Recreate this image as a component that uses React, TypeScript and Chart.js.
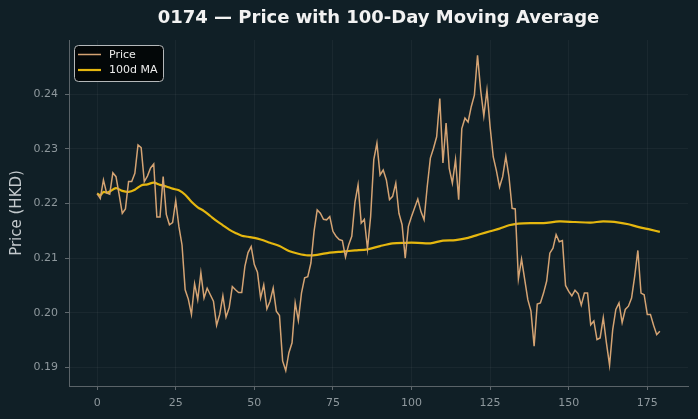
import { useEffect, useRef } from 'react';
import { Chart, registerables } from 'chart.js';

Chart.register(...registerables);

const TITLE = '0174 — Price with 100-Day Moving Average';
const Y_LABEL = 'Price (HKD)';
const PRICE_LABEL = 'Price';
const MA_LABEL = '100d MA';

// Daily closing price, one value per trading day (day 0 .. 179)
const price = [
  0.2218, 0.2209, 0.2243, 0.2219, 0.2217, 0.2256, 0.2249, 0.2216, 0.2182, 0.2190,
  0.2240, 0.2240, 0.2255, 0.2307, 0.2302, 0.2240, 0.2250, 0.2265, 0.2272, 0.2175,
  0.2175, 0.2249, 0.2180, 0.2161, 0.2165, 0.2205, 0.2158, 0.2124, 0.2042, 0.2025,
  0.1997, 0.2053, 0.2024, 0.2073, 0.2027, 0.2045, 0.2033, 0.2021, 0.1977, 0.1997,
  0.2031, 0.1992, 0.2009, 0.2048, 0.2042, 0.2037, 0.2037, 0.2085, 0.2110, 0.2121,
  0.2088, 0.2074, 0.2027, 0.2051, 0.2007, 0.2021, 0.2045, 0.2003, 0.1995, 0.1912,
  0.1894, 0.1927, 0.1945, 0.2018, 0.1986, 0.2036, 0.2064, 0.2066, 0.2091, 0.2149,
  0.2188, 0.2182, 0.2171, 0.2170, 0.2176, 0.2149, 0.2140, 0.2134, 0.2132, 0.2102,
  0.2124, 0.2140, 0.2202, 0.2234, 0.2164, 0.2171, 0.2117, 0.2176, 0.2280, 0.2310,
  0.2252, 0.2261, 0.2243, 0.2207, 0.2213, 0.2237, 0.2182, 0.2161, 0.2100, 0.2158,
  0.2176, 0.2192, 0.2208, 0.2185, 0.2170, 0.2231, 0.2283, 0.2301, 0.2322, 0.2392,
  0.2274, 0.2347, 0.2264, 0.2237, 0.2280, 0.2207, 0.2337, 0.2356, 0.2349, 0.2377,
  0.2398, 0.2471, 0.2407, 0.2360, 0.2407, 0.2340, 0.2285, 0.2260, 0.2230, 0.2249,
  0.2286, 0.2249, 0.2191, 0.2190, 0.2062, 0.2098, 0.2061, 0.2024, 0.2003, 0.1939,
  0.2016, 0.2018, 0.2036, 0.2058, 0.2109, 0.2118, 0.2143, 0.2130, 0.2132, 0.2050,
  0.2039, 0.2031, 0.2041, 0.2035, 0.2014, 0.2036, 0.2036, 0.1978, 0.1985, 0.1951,
  0.1954, 0.1991, 0.1945, 0.1904, 0.1969, 0.2006, 0.2018, 0.1982, 0.2006, 0.2012,
  0.2027, 0.2067, 0.2114, 0.2036, 0.2033, 0.1997, 0.1997, 0.1977, 0.1960, 0.1966,
];

// 100-day moving average, sampled on these days
const maDays = [
  0, 1, 2, 3, 4, 6, 8, 10, 12, 14, 16, 18, 20, 22, 24, 26, 28, 30, 32, 34,
  36, 38, 40, 42, 44, 46, 48, 50, 52, 55, 58, 61, 64, 67, 70, 74, 78, 82, 86, 90,
  94, 98, 102, 106, 110, 114, 118, 122, 125, 128, 131, 134, 138, 142, 147, 152, 157, 161, 166, 169,
  172, 176, 179,
];
const maValues = [
  0.2218, 0.2215, 0.2221, 0.2220, 0.2222, 0.2228, 0.2223, 0.2221, 0.2225, 0.2233,
  0.2235, 0.2238, 0.2234, 0.2231, 0.2227, 0.2224, 0.2216, 0.2203, 0.2193, 0.2186,
  0.2177, 0.2168, 0.2160, 0.2152, 0.2146, 0.2141, 0.2139, 0.2137, 0.2134, 0.2128,
  0.2122, 0.2113, 0.2108, 0.2105, 0.2106, 0.2110, 0.2112, 0.2114, 0.2116, 0.2122,
  0.2127, 0.2128, 0.2128, 0.2127, 0.2132, 0.2133, 0.2137, 0.2144, 0.2149, 0.2154,
  0.2160, 0.2163, 0.2164, 0.2164, 0.2167, 0.2166, 0.2165, 0.2167, 0.2165, 0.2162,
  0.2157, 0.2152, 0.2148,
];

const xTicks = [0, 25, 50, 75, 100, 125, 150, 175];
const yTicks = [0.19, 0.2, 0.21, 0.22, 0.23, 0.24];

const BG = '#101f26';
const PRICE_COLOR = '#d4a373';
const MA_COLOR = '#e5b70f';
const TICK_COLOR = '#8e989d';
const FONT = '"DejaVu Sans", sans-serif';

const decor = {
  id: 'decor',
  beforeDraw(chart: any) {
    const ctx = chart.ctx;
    ctx.save();
    ctx.fillStyle = BG;
    ctx.fillRect(0, 0, chart.width, chart.height);
    ctx.restore();
  },
  afterDraw(chart: any) {
    const { ctx, chartArea } = chart;
    ctx.save();
    // title
    ctx.fillStyle = '#f2f2f2';
    ctx.font = `bold 18px ${FONT}`;
    ctx.textAlign = 'center';
    ctx.textBaseline = 'middle';
    ctx.fillText(TITLE, (chartArea.left + chartArea.right) / 2, 18.5);

    // y axis label
    ctx.save();
    ctx.translate(17, (chartArea.top + chartArea.bottom) / 2);
    ctx.rotate(-Math.PI / 2);
    ctx.fillStyle = '#c4cacd';
    ctx.font = `15px ${FONT}`;
    ctx.fillText(Y_LABEL, 0, 0);
    ctx.restore();

    // legend
    const lx = chartArea.left + 5;
    const ly = chartArea.top + 5;
    const lw = 89;
    const lh = 36;
    ctx.beginPath();
    ctx.roundRect(lx + 0.5, ly + 0.5, lw, lh, 4);
    ctx.fillStyle = 'rgba(2,4,5,0.9)';
    ctx.fill();
    ctx.strokeStyle = '#b4b8ba';
    ctx.lineWidth = 1;
    ctx.stroke();
    ctx.font = `11px ${FONT}`;
    ctx.textAlign = 'left';
    ctx.textBaseline = 'middle';
    chart.data.datasets.forEach((ds: any, k: number) => {
      const y = ly + 9.5 + k * 15.5;
      ctx.beginPath();
      ctx.moveTo(lx + 4, y);
      ctx.lineTo(lx + 27, y);
      ctx.strokeStyle = ds.borderColor;
      ctx.lineWidth = ds.borderWidth;
      ctx.stroke();
      ctx.fillStyle = '#ececec';
      ctx.fillText(ds.label, lx + 35, y + 0.5);
    });
    ctx.restore();
  },
};

export default function App() {
  const canvasRef = useRef<HTMLCanvasElement | null>(null);

  useEffect(() => {
    if (!canvasRef.current) return;
    const chart = new Chart(canvasRef.current, {
      type: 'line',
      data: {
        datasets: [
          {
            label: PRICE_LABEL,
            data: price.map((v, i) => ({ x: i, y: v })),
            borderColor: PRICE_COLOR,
            borderWidth: 1.5,
            pointRadius: 0,
            tension: 0,
          },
          {
            label: MA_LABEL,
            data: maDays.map((d, i) => ({ x: d, y: maValues[i] })),
            borderColor: MA_COLOR,
            borderWidth: 2.2,
            pointRadius: 0,
            tension: 0.3,
          },
        ],
      },
      options: {
        responsive: false,
        animation: false,
        devicePixelRatio: 1,
        layout: { padding: { top: 40, right: 10, left: 0, bottom: 0 } },
        plugins: {
          legend: { display: false },
          title: { display: false },
          tooltip: { enabled: false },
        },
        scales: {
          x: {
            type: 'linear',
            min: -8.95,
            max: 187.95,
            afterFit: (s: any) => {
              s.height = 33;
            },
            afterBuildTicks: (s: any) => {
              s.ticks = xTicks.map((v) => ({ value: v }));
            },
            ticks: {
              color: TICK_COLOR,
              font: { family: FONT, size: 11 },
              padding: 7,
              maxRotation: 0,
              autoSkip: false,
              callback: (v: any) => String(v),
            },
            grid: {
              color: 'rgba(255,255,255,0.045)',
              tickColor: '#5f686d',
              tickLength: 4,
              lineWidth: 1,
            },
            border: { color: '#5a6368', width: 1 },
          },
          y: {
            type: 'linear',
            min: 0.1866,
            max: 0.2499,
            afterFit: (s: any) => {
              s.width = 69;
            },
            afterBuildTicks: (s: any) => {
              s.ticks = yTicks.map((v) => ({ value: v }));
            },
            ticks: {
              color: TICK_COLOR,
              font: { family: FONT, size: 11 },
              padding: 7,
              autoSkip: false,
              callback: (v: any) => Number(v).toFixed(2),
            },
            grid: {
              color: 'rgba(255,255,255,0.045)',
              tickColor: '#5f686d',
              tickLength: 4,
              lineWidth: 1,
            },
            border: { color: '#5a6368', width: 1 },
          },
        },
      },
      plugins: [decor],
    } as any);
    return () => chart.destroy();
  }, []);

  return (
    <div style={{ position: 'fixed', left: 0, top: 0, width: 698, height: 419, background: BG }}>
      <canvas ref={canvasRef} width={698} height={419} style={{ display: 'block' }} />
    </div>
  );
}
